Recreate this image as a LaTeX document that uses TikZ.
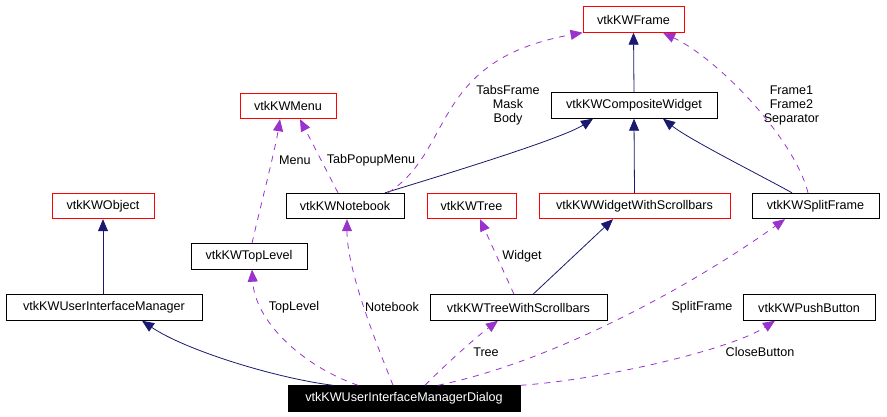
\documentclass[tikz,border=0pt]{standalone}
\usepackage{fontspec}
\setmainfont{Liberation Sans}
\usetikzlibrary{arrows.meta}
\definecolor{inh}{HTML}{191970}
\definecolor{use}{HTML}{9A32CD}
\tikzset{
  box/.style={draw=black, line width=0.9pt, minimum height=25.5pt, inner sep=0pt, font=\fontsize{12.6}{14}\selectfont},
  redbox/.style={box, draw=red},
  dlgbox/.style={box, fill=black, text=white},
  inhedge/.style={draw=inh, line width=0.8pt, -{Triangle[length=12pt,width=10pt]}},
  useedge/.style={draw=use, line width=0.8pt, dash pattern=on 6pt off 6pt, -{Triangle[length=12pt,width=10pt]}},
  lbl/.style={font=\fontsize{12.6}{14}\selectfont, inner sep=0pt, align=center}
}
\begin{document}
\begin{tikzpicture}[x=1pt,y=-1pt]
\useasboundingbox[fill=white] (0,0) rectangle (887,416);
% nodes
\node[redbox, minimum width=101pt] (frame) at (633.5,19.5) {vtkKWFrame};
\node[box, minimum width=166pt] (comp) at (634,105.5) {vtkKWCompositeWidget};
\node[redbox, minimum width=96pt] (menu) at (288,106) {vtkKWMenu};
\node[redbox, minimum width=102pt] (obj) at (103,206) {vtkKWObject};
\node[box, minimum width=118pt] (nb) at (345,206) {vtkKWNotebook};
\node[redbox, minimum width=89pt] (tree) at (471.5,206) {vtkKWTree};
\node[redbox, minimum width=191pt] (wws) at (634.5,206) {vtkKWWidgetWithScrollbars};
\node[box, minimum width=127pt] (sf) at (815.5,206) {vtkKWSplitFrame};
\node[box, minimum width=116pt] (tl) at (249,256.5) {vtkKWTopLevel};
\node[box, minimum width=196pt] (uim) at (104,307.5) {vtkKWUserInterfaceManager};
\node[box, minimum width=177pt] (tws) at (518.5,307.5) {vtkKWTreeWithScrollbars};
\node[box, minimum width=132pt] (pb) at (809,307.5) {vtkKWPushButton};
\node[dlgbox, minimum width=232pt] (dlg) at (404,398.5) {vtkKWUserInterfaceManagerDialog};
% inheritance edges
\draw[inhedge] (comp.north) -- (frame.south);
\draw[inhedge] ([xshift=40pt]nb.north) .. controls (420,182) and (560,140) .. ([xshift=-41pt]comp.south);
\draw[inhedge] (wws.north) -- (comp.south);
\draw[inhedge] ([xshift=-23.5pt]sf.north) .. controls (760,175) and (690,140) .. ([xshift=29pt]comp.south);
\draw[inhedge] (uim.north -| obj.south) -- (obj.south);
\draw[inhedge] ([xshift=14.5pt]tws.north) -- ([xshift=-21.5pt]wws.south);
\draw[inhedge] ([xshift=-71pt]dlg.north) .. controls (275,378) and (185,350) .. ([xshift=38pt]uim.south);
% usage edges
\draw[useedge] ([xshift=43pt]nb.north) .. controls (455,150) and (430,60) .. (frame.south west);
\node[lbl] (l1) at (508,105) {TabsFrame\\Mask\\Body};
\draw[useedge] ([xshift=-7pt]nb.north) -- ([xshift=12pt]menu.south);
\node[lbl] (l2) at (371,160) {TabPopupMenu};
\draw[useedge] ([xshift=3pt]tl.north) .. controls (262,200) and (275,150) .. ([xshift=-8pt]menu.south);
\node[lbl] (l3) at (295,160) {Menu};
\draw[useedge] ([xshift=-7.5pt]sf.north) .. controls (795,140) and (720,60) .. ([xshift=29.5pt]frame.south);
\node[lbl] (l4) at (791.5,105) {Frame1\\Frame2\\Separator};
\draw[useedge] ([xshift=-46pt]dlg.north) .. controls (300,365) and (255,320) .. ([xshift=3pt]tl.south);
\node[lbl] (l5) at (294,307) {TopLevel};
\draw[useedge] ([xshift=-11pt]dlg.north) .. controls (375,340) and (347,270) .. ([xshift=2pt]nb.south);
\node[lbl] (l6) at (392,307) {Notebook};
\draw[useedge] ([xshift=-4.5pt]tws.north) -- ([xshift=8.5pt]tree.south);
\node[lbl] (l7) at (522,256) {Widget};
\draw[useedge] ([xshift=21pt]dlg.north) .. controls (445,365) and (475,338) .. ([xshift=-20.5pt]tws.south);
\node[lbl] (l8) at (486,352) {Tree};
\draw[useedge] ([xshift=34pt]dlg.north) .. controls (560,360) and (700,280) .. ([xshift=-30.5pt]sf.south);
\node[lbl] (l9) at (702,307) {SplitFrame};
\draw[useedge] (dlg.north east) .. controls (600,380) and (730,350) .. ([xshift=-34pt]pb.south);
\node[lbl] (l10) at (760,352) {CloseButton};
\end{tikzpicture}
\end{document}
